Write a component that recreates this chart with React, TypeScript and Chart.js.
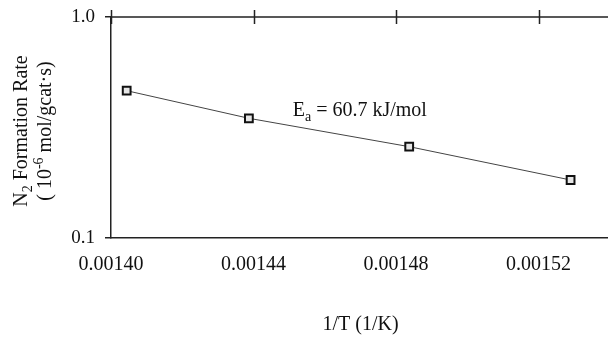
import React, { useEffect, useRef } from "react";
import { Chart, registerables } from "chart.js";

Chart.register(...registerables);

// Arrhenius data: inverse temperature (1/K) vs. N2 formation rate (10^-6 mol/gcat·s)
const invTemperature = [0.0014044, 0.0014387, 0.0014837, 0.001529];
const formationRate = [0.464, 0.348, 0.259, 0.183];
const xTickValues = [0.0014, 0.00144, 0.00148, 0.00152];
const yTickValues = [0.1, 1];
const activationLabel = "60.7 kJ/mol";

const SERIF = "'Liberation Serif', 'Times New Roman', serif";
const INK = "#111";

type Seg = { t: string; size: number; dy: number };

function drawSegs(ctx: CanvasRenderingContext2D, segs: Seg[], x: number, y: number, center: boolean) {
  let total = 0;
  for (const s of segs) {
    ctx.font = `${s.size}px ${SERIF}`;
    total += ctx.measureText(s.t).width;
  }
  let cx = center ? x - total / 2 : x;
  for (const s of segs) {
    ctx.font = `${s.size}px ${SERIF}`;
    ctx.fillText(s.t, cx, y + s.dy);
    cx += ctx.measureText(s.t).width;
  }
}

const decorations = {
  id: "decorations",
  afterDraw(chart: any) {
    const { ctx, chartArea } = chart;
    const xs = chart.scales.x;
    const ys = chart.scales.y;
    ctx.save();
    ctx.strokeStyle = "#222";
    ctx.lineWidth = 1.5;
    // top frame line with crossing tick marks
    ctx.beginPath();
    ctx.moveTo(chartArea.left, chartArea.top);
    ctx.lineTo(chartArea.right, chartArea.top);
    for (const v of xTickValues) {
      const px = Math.round(xs.getPixelForValue(v)) + 0.5;
      ctx.moveTo(px, chartArea.top - 7);
      ctx.lineTo(px, chartArea.top + 7);
    }
    ctx.stroke();

    ctx.fillStyle = INK;
    ctx.textBaseline = "alphabetic";
    ctx.textAlign = "left";

    // activation energy annotation
    const ax = xs.getPixelForValue(0.001451);
    const ay = ys.getPixelForValue(0.356);
    drawSegs(
      ctx,
      [
        { t: "E", size: 20, dy: 0 },
        { t: "a", size: 14, dy: 5 },
        { t: " = " + activationLabel, size: 20, dy: 0 },
      ],
      ax,
      ay,
      false
    );

    // x axis title
    ctx.font = `20px ${SERIF}`;
    ctx.textAlign = "center";
    ctx.fillText("1/T (1/K)", (chartArea.left + chartArea.right) / 2 + 1, 330);
    ctx.textAlign = "left";

    // y axis title (two rotated lines)
    const cy = 131;
    ctx.save();
    ctx.translate(27, cy);
    ctx.rotate(-Math.PI / 2);
    drawSegs(
      ctx,
      [
        { t: "N", size: 20, dy: 0 },
        { t: "2", size: 14, dy: 5 },
        { t: " Formation Rate", size: 20, dy: 0 },
      ],
      0,
      0,
      true
    );
    ctx.restore();
    ctx.save();
    ctx.translate(51, cy);
    ctx.rotate(-Math.PI / 2);
    drawSegs(
      ctx,
      [
        { t: "( 10", size: 20, dy: 0 },
        { t: "-6", size: 14, dy: -8 },
        { t: " mol/gcat\u00b7s)", size: 20, dy: 0 },
      ],
      0,
      0,
      true
    );
    ctx.restore();
    ctx.restore();
  },
};

export default function App() {
  const ref = useRef<HTMLCanvasElement | null>(null);

  useEffect(() => {
    document.body.style.margin = "0";
    const canvas = ref.current;
    if (!canvas) return;
    const chart = new Chart(canvas, {
      type: "scatter",
      data: {
        datasets: [
          {
            data: invTemperature.map((x, i) => ({ x, y: formationRate[i] })),
            showLine: true,
            borderColor: "#444",
            borderWidth: 1,
            pointStyle: "rect",
            pointRadius: 5.5,
            pointBorderWidth: 2,
            pointBorderColor: "#111",
            pointBackgroundColor: "#e6e6e6",
          },
        ],
      },
      options: {
        animation: false,
        responsive: false,
        devicePixelRatio: 1,
        layout: { autoPadding: false, padding: { left: 0, right: 0, top: 17, bottom: 0 } },
        plugins: { legend: { display: false }, tooltip: { enabled: false } },
        scales: {
          x: {
            type: "linear",
            min: 0.0014,
            max: 0.0015395,
            afterBuildTicks: (s: any) => {
              s.ticks = xTickValues.map((value) => ({ value }));
            },
            afterFit: (s: any) => {
              s.height = 101;
              s.paddingLeft = 0;
              s.paddingRight = 0;
            },
            grid: { display: false },
            border: { display: true, color: "#222", width: 1.5 },
            ticks: {
              padding: 7,
              color: INK,
              maxRotation: 0,
              font: { family: SERIF, size: 20 },
              callback: (v: any) => Number(v).toFixed(5),
            },
          },
          y: {
            type: "logarithmic",
            min: 0.1,
            max: 1,
            afterBuildTicks: (s: any) => {
              s.ticks = yTickValues.map((value) => ({ value }));
            },
            afterFit: (s: any) => {
              s.width = 111;
              s.paddingTop = 0;
              s.paddingBottom = 0;
            },
            grid: { drawOnChartArea: false, drawTicks: true, tickLength: 6, color: "#222", lineWidth: 1.5 },
            border: { display: true, color: "#222", width: 1.5 },
            ticks: {
              padding: 10,
              color: INK,
              font: { family: SERIF, size: 19 },
              callback: (v: any) => Number(v).toFixed(1),
            },
          },
        },
      },
      plugins: [decorations],
    });
    return () => chart.destroy();
  }, []);

  return (
    <div style={{ position: "fixed", left: 0, top: 0, width: 608, height: 339, background: "#fff" }}>
      <canvas ref={ref} width={608} height={339} style={{ width: 608, height: 339, display: "block" }} />
    </div>
  );
}
